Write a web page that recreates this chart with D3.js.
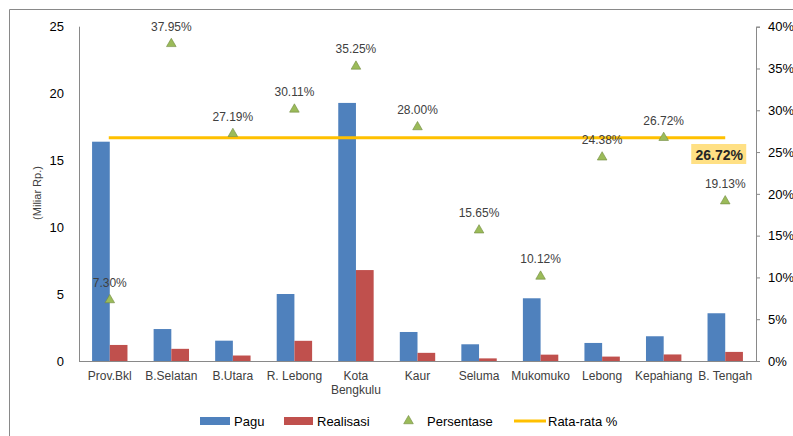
<!DOCTYPE html>
<html>
<head>
<meta charset="utf-8">
<script src="https://cdn.jsdelivr.net/npm/d3@7"></script>
<style>
  body { margin: 0; background: #fff; }
  svg { display: block; }
  text { font-family: "Liberation Sans", Arial, sans-serif; }
</style>
</head>
<body>
<svg id="chart" width="793" height="436"></svg>
<script>
const categories = ["Prov.Bkl", "B.Selatan", "B.Utara", "R. Lebong", "Kota Bengkulu", "Kaur", "Seluma", "Mukomuko", "Lebong", "Kepahiang", "B. Tengah"];
const pagu = [16.4, 2.39, 1.52, 5.01, 19.3, 2.17, 1.25, 4.69, 1.35, 1.85, 3.57];
const realisasi = [1.2, 0.91, 0.41, 1.51, 6.8, 0.61, 0.196, 0.475, 0.33, 0.49, 0.68];
const persentase = [7.30, 37.95, 27.19, 30.11, 35.25, 28.00, 15.65, 10.12, 24.38, 26.72, 19.13];
const rataRata = 26.72;
const leftTicks = [0, 5, 10, 15, 20, 25];
const rightTicks = [0, 5, 10, 15, 20, 25, 30, 35, 40];
const legendLabels = ["Pagu", "Realisasi", "Persentase", "Rata-rata %"];

const svg = d3.select("#chart");
const pLeft = 79, pRight = 756, pTop = 26.7, pBottom = 361;

// outer frame
svg.append("path").attr("d", "M9.5,436 V9.5 H793").attr("fill", "none").attr("stroke", "#898989").attr("stroke-width", 1);

const x = d3.scaleBand().domain(categories).range([pLeft, pRight]).paddingInner(0).paddingOuter(0);
const x1 = d3.scaleBand().domain(["pagu", "realisasi"]).range([0, 35.4]);
const y = d3.scaleLinear().domain([0, 25]).range([pBottom, pTop]);
const y2 = d3.scaleLinear().domain([0, 40]).range([pBottom, pTop]);

const bw = x.bandwidth();
const groupOff = (bw - 35.4) / 2;

// bars
const colors = { pagu: "#4F81BD", realisasi: "#C0504D" };
const g = svg.append("g");
categories.forEach((c, i) => {
  [["pagu", pagu[i]], ["realisasi", realisasi[i]]].forEach(([k, v]) => {
    g.append("rect")
      .attr("x", x(c) + groupOff + x1(k))
      .attr("y", y(v))
      .attr("width", x1.bandwidth())
      .attr("height", y(0) - y(v))
      .attr("fill", colors[k]);
  });
});

// left axis
const la = svg.append("g").attr("transform", `translate(${pLeft},0)`)
  .call(d3.axisLeft(y).tickValues(leftTicks).tickSize(0).tickPadding(15).tickFormat(d3.format("d")));
la.select(".domain").attr("stroke", "#898989").attr("d", `M0.5,${pTop} V${pBottom}`);
la.selectAll("text").attr("font-size", 13).attr("fill", "#000").attr("font-family", "Liberation Sans, Arial, sans-serif");

// right axis
const ra = svg.append("g").attr("transform", `translate(${pRight},0)`)
  .call(d3.axisRight(y2).tickValues(rightTicks).tickSize(4).tickPadding(8).tickFormat(d => d + "%"));
ra.select(".domain").attr("stroke", "#898989").attr("d", `M4,${pTop+0.5} H0.5 V${pBottom}`);
ra.selectAll("line").attr("stroke", "#898989");
ra.selectAll("text").attr("font-size", 13).attr("fill", "#000").attr("font-family", "Liberation Sans, Arial, sans-serif");

// bottom axis line
svg.append("line").attr("x1", pLeft).attr("x2", pRight + 0.5).attr("y1", pBottom + 0.5).attr("y2", pBottom + 0.5).attr("stroke", "#898989");

// category labels
categories.forEach(c => {
  const cx = x(c) + bw / 2;
  const t = svg.append("text").attr("x", cx).attr("y", 380).attr("text-anchor", "middle")
    .attr("font-size", 12).attr("fill", "#404040");
  if (c === "Kota Bengkulu") {
    t.append("tspan").attr("x", cx).attr("dy", 0).text("Kota");
    t.append("tspan").attr("x", cx).attr("dy", 14).text("Bengkulu");
  } else {
    t.text(c);
  }
});

// axis title
svg.append("text").attr("transform", "translate(41,193) rotate(-90)").attr("text-anchor", "middle")
  .attr("font-size", 11).attr("fill", "#404040").text("(Miliar Rp.)");

// average line
svg.append("line")
  .attr("x1", x(categories[0]) + bw / 2 - 1).attr("x2", x(categories[categories.length - 1]) + bw / 2)
  .attr("y1", y2(rataRata)).attr("y2", y2(rataRata))
  .attr("stroke", "#FFC000").attr("stroke-width", 3);

// triangles + labels
const tri = d3.symbol().type(d3.symbolTriangle).size(40);
categories.forEach((c, i) => {
  const cx = x(c) + bw / 2, cy = y2(persentase[i]);
  svg.append("path").attr("d", tri()).attr("transform", `translate(${cx},${cy})`)
    .attr("fill", "#9BBB59").attr("stroke", "#71893F").attr("stroke-width", 0.6);
  svg.append("text").attr("x", cx).attr("y", cy - 13).attr("text-anchor", "middle")
    .attr("font-size", 12).attr("fill", "#404040").text(persentase[i].toFixed(2) + "%");
});

// average label box
const avgX = x(categories[categories.length - 1]) + bw / 2 - 6;
svg.append("rect").attr("x", avgX - 28).attr("y", 144).attr("width", 55).attr("height", 20).attr("fill", "#FFE084");
svg.append("text").attr("x", avgX).attr("y", 159.5).attr("text-anchor", "middle")
  .attr("font-size", 14).attr("font-weight", "bold").attr("fill", "#262626").text(rataRata.toFixed(2) + "%");

// legend
const ly = 421;
const lg = svg.append("g");
lg.append("rect").attr("x", 200).attr("y", ly - 4).attr("width", 30).attr("height", 8).attr("fill", colors.pagu);
lg.append("text").attr("x", 234).attr("y", ly + 5).attr("font-size", 13).attr("fill", "#000").text(legendLabels[0]);
lg.append("rect").attr("x", 284).attr("y", ly - 4).attr("width", 29).attr("height", 8).attr("fill", colors.realisasi);
lg.append("text").attr("x", 317).attr("y", ly + 5).attr("font-size", 13).attr("fill", "#000").text(legendLabels[1]);
lg.append("path").attr("d", tri()).attr("transform", `translate(408.5,${ly})`).attr("fill", "#9BBB59").attr("stroke", "#71893F").attr("stroke-width", 0.6);
lg.append("text").attr("x", 427).attr("y", ly + 5).attr("font-size", 13).attr("fill", "#000").text(legendLabels[2]);
lg.append("line").attr("x1", 514).attr("x2", 546).attr("y1", ly).attr("y2", ly).attr("stroke", "#FFC000").attr("stroke-width", 3);
lg.append("text").attr("x", 548).attr("y", ly + 5).attr("font-size", 13).attr("fill", "#000").text(legendLabels[3]);
</script>
</body>
</html>
